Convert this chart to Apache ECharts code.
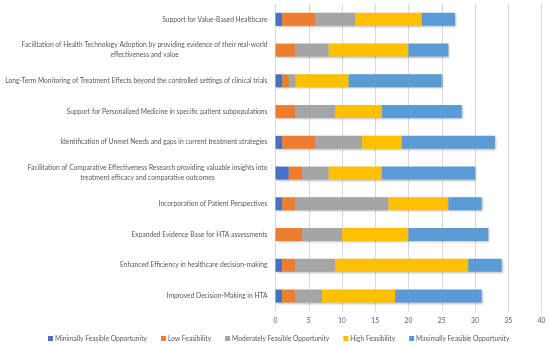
<!DOCTYPE html>
<html>
<head>
<meta charset="utf-8">
<script src="https://cdn.jsdelivr.net/npm/echarts@6/dist/echarts.min.js"></script>
<style>
html,body{margin:0;padding:0;background:#fff;}
#chart{width:550px;height:346px;}
</style>
</head>
<body>
<div id="chart"></div>
<script>
var categories = [
  "Support for Value-Based Healthcare",
  "Facilitation of Health Technology Adoption by providing evidence of their real-world\neffectiveness and value",
  "Long-Term Monitoring of Treatment Effects beyond the controlled settings of clinical trials",
  "Support for Personalized Medicine in specific patient subpopulations",
  "Identification of Unmet Needs and gaps in current treatment strategies",
  "Facilitation of Comparative Effectiveness Research providing valuable insights into\ntreatment efficacy and comparative outcomes",
  "Incorporation of Patient Perspectives",
  "Expanded Evidence Base for HTA assessments",
  "Enhanced Efficiency in healthcare decision-making",
  "Improved Decision-Making in HTA"
];
var seriesNames = ["Minimally Feasible Opportunity", "Low Feasibility", "Moderately Feasible Opportunity", "High Feasibility", "Maximally Feasible Opportunity"];
var minimal  = [1, 0, 1, 0, 1, 2, 1, 0, 1, 1];
var low      = [5, 3, 1, 3, 5, 2, 2, 4, 2, 2];
var moderate = [6, 5, 1, 6, 7, 4, 14, 6, 6, 4];
var high     = [10, 12, 8, 7, 6, 8, 9, 10, 20, 11];
var maximal  = [5, 6, 14, 12, 14, 14, 5, 12, 5, 13];
var xTicks = [0, 5, 10, 15, 20, 25, 30, 35, 40];

var colors = ["#4472C4", "#ED7D31", "#A5A5A5", "#FFC000", "#5B9BD5"];
var values = [minimal, low, moderate, high, maximal];
var FONT = "Lato, 'Open Sans', sans-serif";
var TXT = "#595959";
var FS = 6.7;

var chart = echarts.init(document.getElementById('chart'), null, {renderer: 'canvas'});
var series = seriesNames.map(function (n, i) {
  return {
    name: n,
    type: 'bar',
    stack: 'total',
    barWidth: 13,
    data: values[i],
    itemStyle: {
      color: colors[i],
      shadowColor: 'rgba(0,0,0,0.25)',
      shadowBlur: 2,
      shadowOffsetX: 1,
      shadowOffsetY: 1
    }
  };
});

chart.setOption({
  animation: false,
  color: colors,
  grid: {left: 275.5, right: 8.5, top: 4, bottom: 34.6, containLabel: false, outerBoundsMode: 'none'},
  xAxis: {
    type: 'value',
    min: xTicks[0],
    max: xTicks[xTicks.length - 1],
    interval: xTicks[1] - xTicks[0],
    axisLine: {show: false},
    axisTick: {show: false},
    splitLine: {show: true, lineStyle: {color: '#D9D9D9', width: 1}},
    axisLabel: {color: TXT, fontSize: FS, fontFamily: FONT, margin: 6}
  },
  yAxis: {
    type: 'category',
    inverse: true,
    data: categories,
    axisLine: {show: false},
    axisTick: {show: false},
    axisLabel: {
      margin: 8,
      color: TXT,
      fontSize: FS,
      fontFamily: FONT,
      formatter: function (v) {
        return v.split('\n').map(function (l) { return '{c|' + l + '}'; }).join('\n');
      },
      rich: {c: {align: 'center', color: TXT, fontSize: FS, fontFamily: FONT, lineHeight: 10}}
    }
  },
  legend: {
    left: 43,
    top: 330,
    itemWidth: 5,
    itemHeight: 5,
    itemGap: 14,
    icon: 'rect',
    textStyle: {color: TXT, fontSize: FS, fontFamily: FONT, padding: [0, 0, 0, -3]},
    data: seriesNames
  },
  series: series
});
</script>
</body>
</html>
